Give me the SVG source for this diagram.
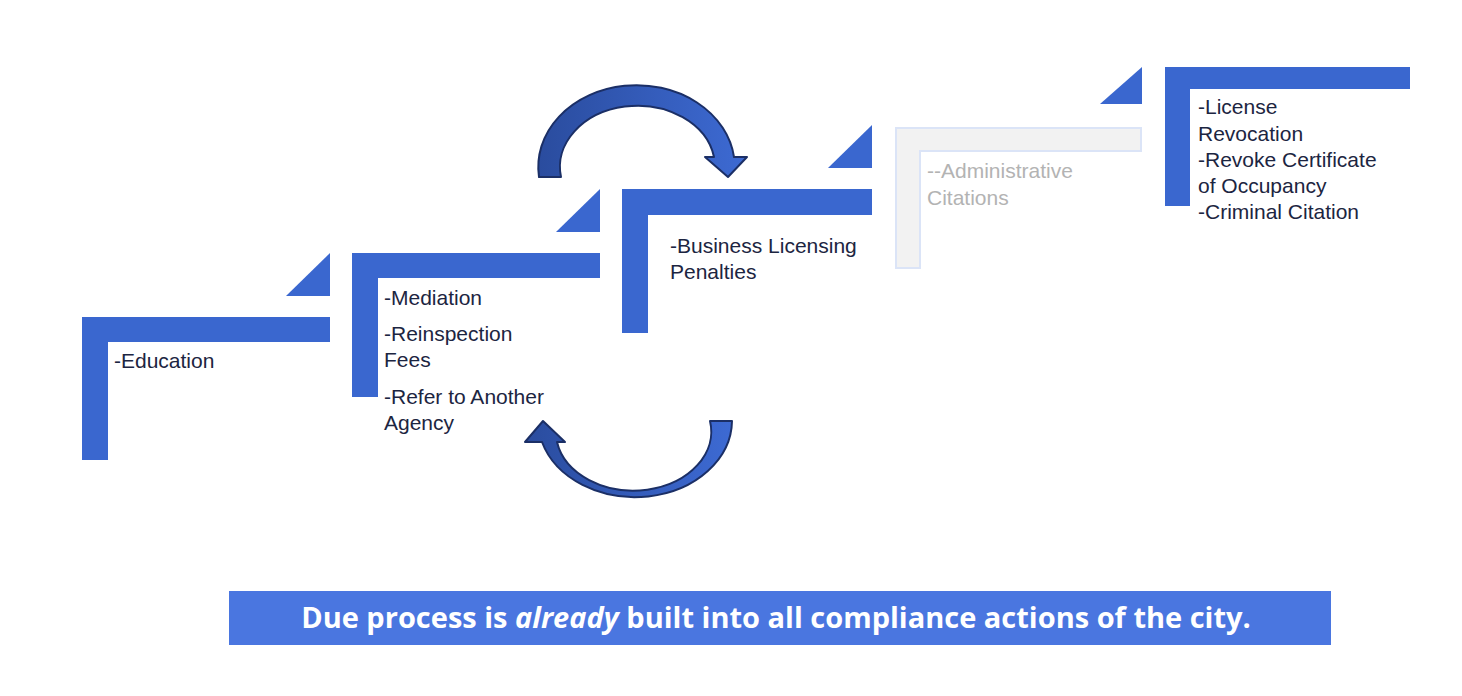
<svg xmlns="http://www.w3.org/2000/svg" width="1462" height="696" viewBox="0 0 1462 696">
<style>
.b{fill:#3a67cf}
.t{font-family:"Liberation Sans",Arial,sans-serif;font-size:21px;fill:#1c2541}
.g{fill:#b3b3b3}
.arr{fill:url(#ag);stroke:#1b2f66;stroke-width:2;stroke-linejoin:round}
</style>
<defs>
<linearGradient id="ag" x1="0" y1="0" x2="1" y2="0"><stop offset="0" stop-color="#2a4c9e"/><stop offset="1" stop-color="#3d6ad3"/></linearGradient>
</defs>
<rect width="1462" height="696" fill="#fff"/>
<g id="step1">
<path class="b" d="M82,317H330V342H108V460H82Z"/>
<path class="b" d="M286,296L330,253V296Z"/>
<text class="t" x="114" y="368">-Education</text>
</g>
<g id="step2">
<path class="b" d="M352,253H600V278H378V397H352Z"/>
<path class="b" d="M556,232L600,189V232Z"/>
<text class="t" x="384" y="305">-Mediation</text>
<text class="t" x="384" y="341">-Reinspection</text>
<text class="t" x="384" y="367">Fees</text>
<text class="t" x="384" y="404">-Refer to Another</text>
<text class="t" x="384" y="430">Agency</text>
</g>
<g id="step3">
<path class="b" d="M622,189H872V215H648V333H622Z"/>
<path class="b" d="M828,168L872,125V168Z"/>
<text class="t" x="670" y="253">-Business Licensing</text>
<text class="t" x="670" y="279">Penalties</text>
</g>
<g id="step4">
<path d="M896,128H1141V151H920V268H896Z" fill="#f2f2f2" stroke="#dbe4f7" stroke-width="2"/>
<path class="b" d="M1100,104L1142,67V104Z"/>
<text class="t g" x="927" y="178">--Administrative</text>
<text class="t g" x="927" y="205">Citations</text>
</g>
<g id="step5">
<path class="b" d="M1165,67H1410V89H1190V206H1165Z"/>
<text class="t" x="1198" y="114">-License</text>
<text class="t" x="1198" y="141">Revocation</text>
<text class="t" x="1198" y="167">-Revoke Certificate</text>
<text class="t" x="1198" y="193">of Occupancy</text>
<text class="t" x="1198" y="219">-Criminal Citation</text>
</g>
<g id="connectors">
<path class="arr" d="M539,177A96,80 0 0 1 734,157L747,157L728,177L705,157L714,157A76,60 0 0 0 561,177Z"/>
<path class="arr" d="M732,421A97,77 0 0 1 542,442L525,442L543,421L565,442L557,442A75,57 0 0 0 710,421Z"/>
</g>
<g id="banner">
<rect x="229" y="591" width="1102" height="54" fill="#4a76e0"/>
<text x="776" y="628" text-anchor="middle" font-family="'Open Sans',sans-serif" font-weight="bold" font-size="29" fill="#fff">Due process is <tspan font-style="italic">already</tspan> built into all compliance actions of the city.</text>
</g>
</svg>
